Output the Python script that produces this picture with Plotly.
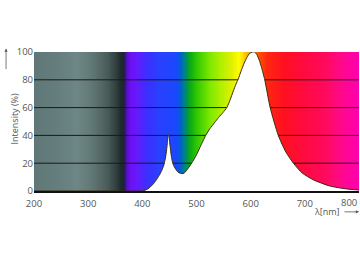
import numpy as np
import plotly.graph_objects as go

# Spectrum curve (wavelength nm, relative intensity %)
wavelength = [200, 300, 390, 400, 405, 410, 415, 420, 425, 430, 435, 440, 444, 446, 448, 449,
              451, 454, 457, 461, 466, 471, 475, 479, 484, 491, 500, 506, 512, 517, 525, 533,
              541, 549, 556, 562, 568, 573, 577, 582, 588, 593, 598, 603, 607, 611, 616,
              620, 626, 636, 651, 665, 679, 695, 716, 746, 777, 800]
intensity = [0, 0, 0, 0.2, 0.6, 1.5, 3, 5, 7.5, 10.5, 14, 19, 27, 34, 40.5, 40,
             33, 24, 19, 16, 13.5, 12.7, 12.5, 13.5, 16, 20, 26, 31, 36, 40, 45, 49,
             53, 56.5, 60, 65.5, 72, 77, 80.5, 86, 92, 96, 99, 100, 100, 98.5, 94,
             89, 80, 60, 40, 28, 20, 13, 8, 3.6, 1.5, 0.7]

# Background spectrum colour stops
bg_wavelength = [200, 240, 280, 310, 335, 352, 362, 368, 372, 380, 395, 410, 430, 462, 470,
                 477, 483, 490, 505, 525, 545, 565, 578, 590, 602, 615, 630, 660, 700, 740,
                 770, 800]
bg_colors = ["#5f7776", "#657d7c", "#6d8786", "#5f7573", "#4a5c5a", "#2f3f3e", "#1c2828",
             "#2a1a60", "#5a10d0", "#7010f8", "#5a20ff", "#3a30ff", "#2a40ff", "#1a48ff",
             "#0060d0", "#00808a", "#009a40", "#10b010", "#40d000", "#80e800", "#b0f000",
             "#e0f000", "#ffff00", "#ffc000", "#ff9000", "#ff5000", "#ff2810", "#ff1020",
             "#ff0a40", "#ff0a60", "#ff0890", "#ff00b0"]

x_ticks = [200, 300, 400, 500, 600, 700, 800]
y_ticks = [0, 20, 40, 60, 80, 100]
grid_levels = [20, 40, 60, 80]

lo, hi = bg_wavelength[0], bg_wavelength[-1]
colorscale = [[(w - lo) / (hi - lo), c] for w, c in zip(bg_wavelength, bg_colors)]
bg_x = np.arange(lo, hi + 1, 1.0)

fig = go.Figure()
fig.add_trace(go.Heatmap(x=bg_x, y=[0, 100], z=[bg_x, bg_x], colorscale=colorscale,
                         zmin=lo, zmax=hi, showscale=False, hoverinfo="skip"))

gx, gy = [], []
for g in grid_levels:
    gx += [lo, hi, None]
    gy += [g, g, None]
fig.add_trace(go.Scatter(x=gx, y=gy, mode="lines", line=dict(color="#1a1a1a", width=1),
                         hoverinfo="skip", showlegend=False))

fig.add_trace(go.Scatter(x=wavelength, y=intensity, mode="lines", fill="tozeroy",
                         fillcolor="white", line=dict(color="#3a2a10", width=1, shape="spline",
                                                      smoothing=0.6),
                         showlegend=False))

font = dict(family="Open Sans, Liberation Sans, sans-serif", size=9.5, color="#555")
title_font = dict(family="Open Sans, Liberation Sans, sans-serif", size=9, color="#555")
x_text = [str(v) if v != x_ticks[-1] else "" for v in x_ticks]

fig.update_layout(
    width=360, height=262, margin=dict(l=34, r=1, t=52, b=71),
    paper_bgcolor="white", plot_bgcolor="white", showlegend=False, font=font,
    xaxis=dict(range=[200, 800], tickvals=x_ticks, ticktext=x_text, showgrid=False,
               zeroline=False, showline=True, linecolor="#111", linewidth=1.5, ticks="",
               ticklen=0, ticklabelstandoff=3, tickfont=font, fixedrange=True),
    yaxis=dict(range=[0, 100], tickvals=y_ticks, showgrid=False, zeroline=False,
               showline=False, ticks="", tickfont=font, fixedrange=True),
    annotations=[
        dict(text=str(x_ticks[-1]), xref="x", yref="paper", x=x_ticks[-1], y=-0.082,
             xanchor="right", yanchor="middle", showarrow=False, font=font),
        dict(text="Intensity (%)", xref="paper", yref="paper", x=-0.086, y=0.72,
             textangle=-90, showarrow=False, font=title_font),
        dict(xref="paper", yref="paper", x=-0.086, y=1.025, ax=0, ay=22,
             showarrow=True, arrowhead=2, arrowsize=0.8,
             arrowwidth=0.8, arrowcolor="#555", text=""),
        dict(text="λ[nm]", xref="paper", yref="paper", x=0.947, y=-0.15,
             xanchor="right", yanchor="middle", showarrow=False, font=title_font),
        dict(xref="paper", yref="paper", x=1.0, y=-0.15, ax=-16, ay=0,
             showarrow=True, arrowhead=2, arrowsize=0.8,
             arrowwidth=0.8, arrowcolor="#555", text=""),
    ],
)
fig.write_html("out.html")
